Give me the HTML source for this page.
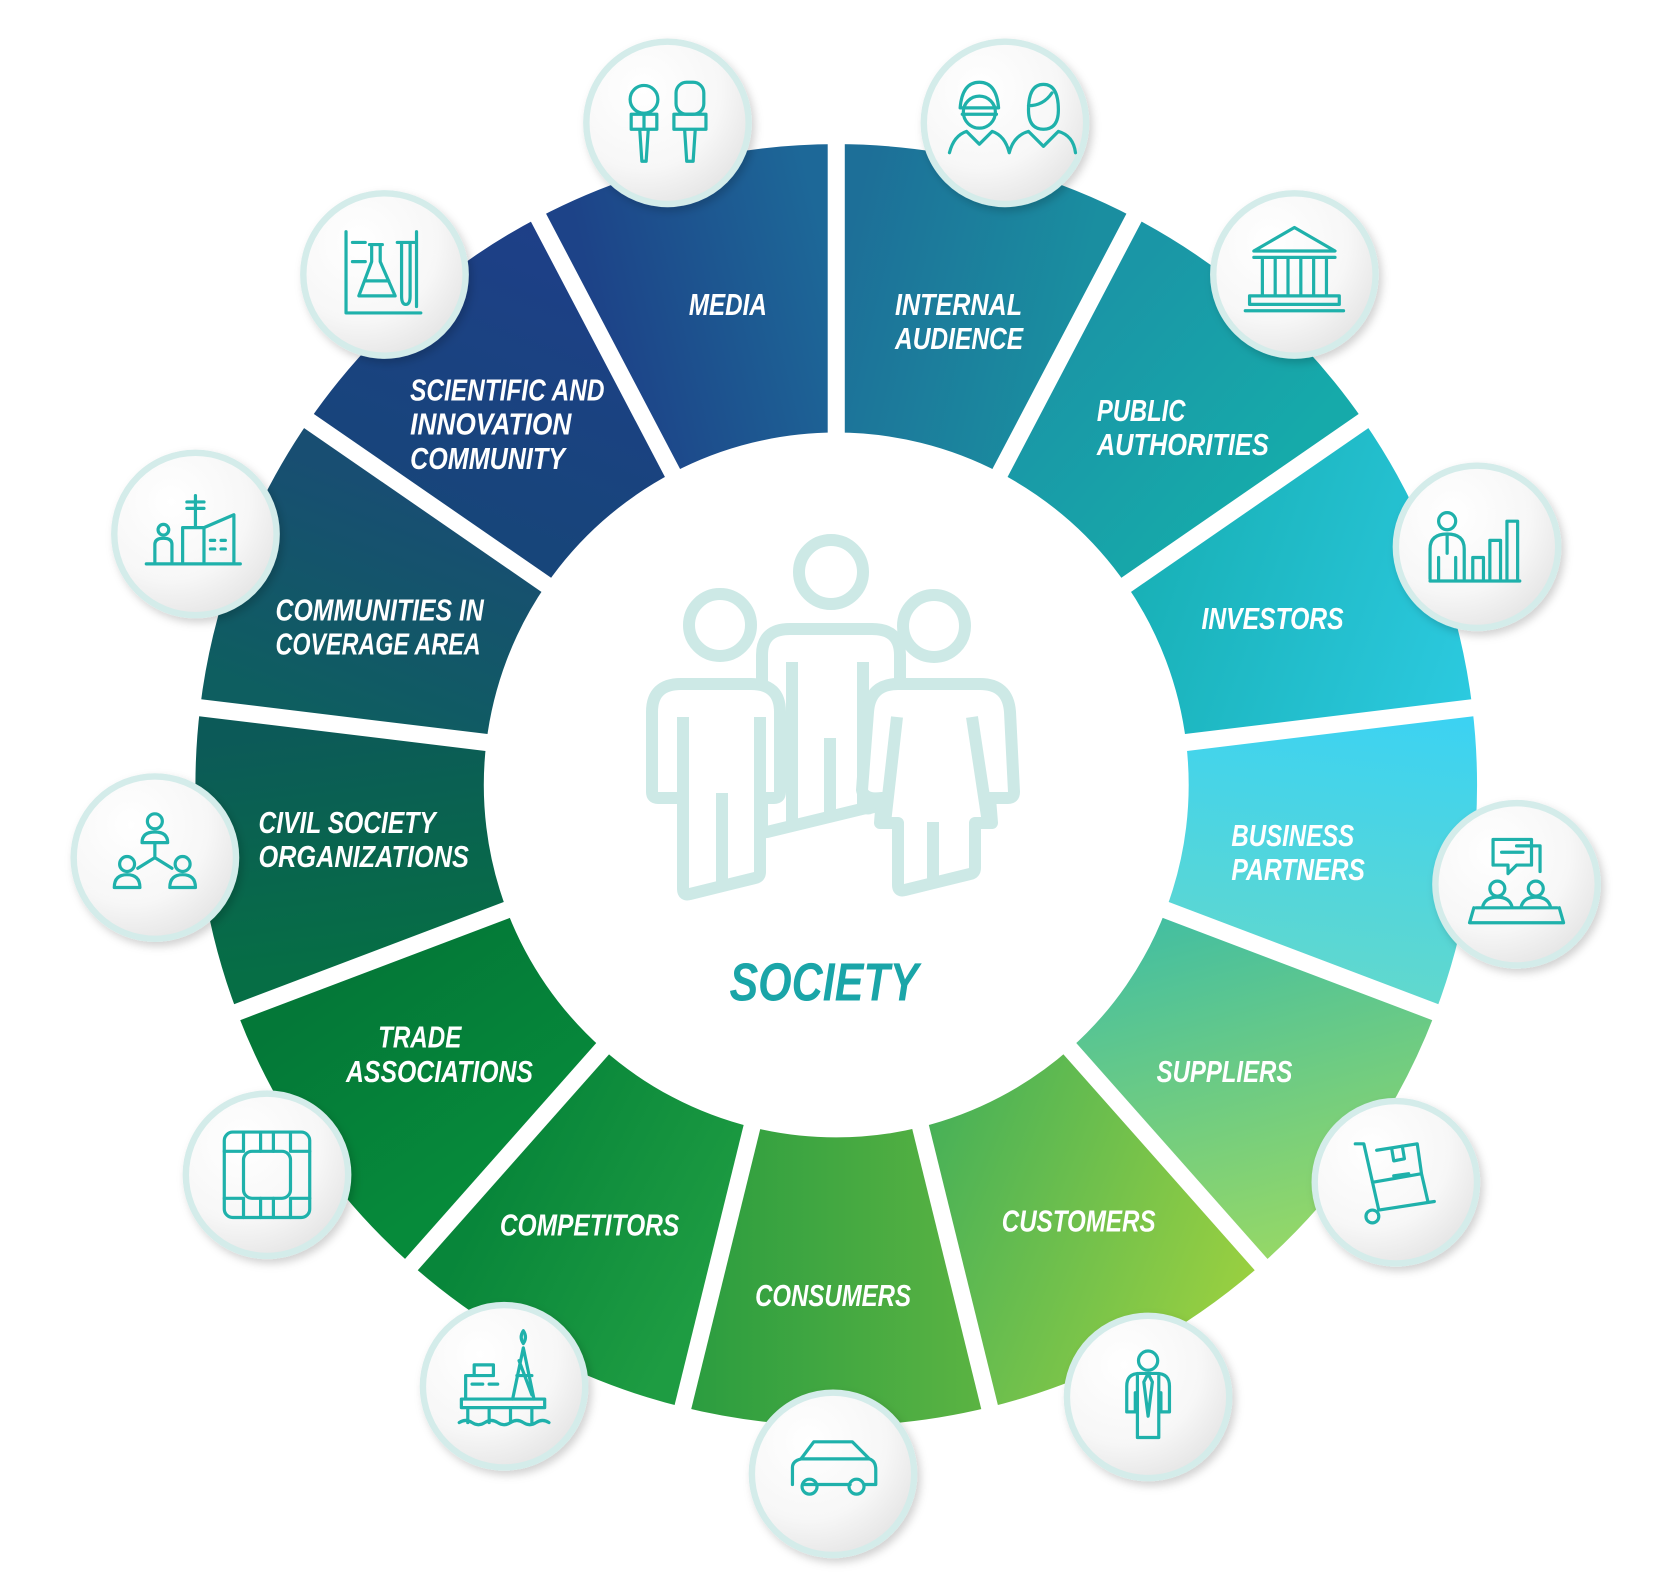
<!DOCTYPE html>
<html><head><meta charset="utf-8"><style>
html,body{margin:0;padding:0;background:#fff;width:1666px;height:1572px;overflow:hidden}
svg{display:block}
.lb{font-family:"Liberation Sans",sans-serif;font-weight:bold;font-style:italic;fill:#fff;font-size:29px}
.ic{fill:none;stroke:#1fb1ab;stroke-width:3;stroke-linecap:round;stroke-linejoin:round}
.pp{fill:#fff;stroke:#cde9e6;stroke-width:12;stroke-linejoin:round}
</style></head><body>
<svg id="s" width="1666" height="1572" viewBox="0 0 1666 1572" xmlns="http://www.w3.org/2000/svg">
<defs>
<radialGradient id="cg" cx="0.35" cy="0.3" r="0.8">
<stop offset="0" stop-color="#ffffff"/><stop offset="0.6" stop-color="#f7f7f7"/><stop offset="1" stop-color="#e2e2e2"/>
</radialGradient>
<filter id="sh" x="-30%" y="-30%" width="160%" height="160%"><feDropShadow dx="3" dy="4" stdDeviation="4" flood-color="#000" flood-opacity="0.18"/></filter>
</defs>
<g id="main" transform="scale(1.068)">
<g id="segs"></g>
<g id="circ"></g>
<g id="icons"></g>
<g>
<text class="lb" x="645" y="295" textLength="73" lengthAdjust="spacingAndGlyphs">MEDIA</text>
<text class="lb" x="838" y="295" textLength="119" lengthAdjust="spacingAndGlyphs">INTERNAL</text>
<text class="lb" x="838" y="327" textLength="120" lengthAdjust="spacingAndGlyphs">AUDIENCE</text>
<text class="lb" x="1027" y="394" textLength="83" lengthAdjust="spacingAndGlyphs">PUBLIC</text>
<text class="lb" x="1027" y="426" textLength="161" lengthAdjust="spacingAndGlyphs">AUTHORITIES</text>
<text class="lb" x="1125" y="589" textLength="133" lengthAdjust="spacingAndGlyphs">INVESTORS</text>
<text class="lb" x="1153" y="792" textLength="115" lengthAdjust="spacingAndGlyphs">BUSINESS</text>
<text class="lb" x="1153" y="824" textLength="125" lengthAdjust="spacingAndGlyphs">PARTNERS</text>
<text class="lb" x="1083" y="1013" textLength="127" lengthAdjust="spacingAndGlyphs">SUPPLIERS</text>
<text class="lb" x="938" y="1153" textLength="144" lengthAdjust="spacingAndGlyphs">CUSTOMERS</text>
<text class="lb" x="707" y="1223" textLength="146" lengthAdjust="spacingAndGlyphs">CONSUMERS</text>
<text class="lb" x="468" y="1157" textLength="168" lengthAdjust="spacingAndGlyphs">COMPETITORS</text>
<text class="lb" x="354" y="981" textLength="78" lengthAdjust="spacingAndGlyphs">TRADE</text>
<text class="lb" x="324" y="1013" textLength="175" lengthAdjust="spacingAndGlyphs">ASSOCIATIONS</text>
<text class="lb" x="242" y="780" textLength="166" lengthAdjust="spacingAndGlyphs">CIVIL SOCIETY</text>
<text class="lb" x="242" y="812" textLength="197" lengthAdjust="spacingAndGlyphs">ORGANIZATIONS</text>
<text class="lb" x="258" y="581" textLength="195" lengthAdjust="spacingAndGlyphs">COMMUNITIES IN</text>
<text class="lb" x="258" y="613" textLength="192" lengthAdjust="spacingAndGlyphs">COVERAGE AREA</text>
<text class="lb" x="384" y="375" textLength="182" lengthAdjust="spacingAndGlyphs">SCIENTIFIC AND</text>
<text class="lb" x="384" y="407" textLength="151" lengthAdjust="spacingAndGlyphs">INNOVATION</text>
<text class="lb" x="384" y="439" textLength="145" lengthAdjust="spacingAndGlyphs">COMMUNITY</text>
<text x="683" y="937" textLength="177" lengthAdjust="spacingAndGlyphs" style="font-family:'Liberation Sans',sans-serif;font-weight:bold;font-style:italic;font-size:50px;fill:#1aa5a8">SOCIETY</text>
</g>
</g>
<g>
<path class="pp" d="M762,830 V655 Q762,629 790,629 H872 Q900,629 900,655 V800 L870,808 Q868,809 866,808 L767,832 Q762,833 762,830 Z"/>
<path class="pp" d="M792,662 V828 M863,662 V806 M830,738 V818" fill="none"/>
<circle class="pp" cx="831" cy="572" r="32"/>
<circle class="pp" cx="720" cy="625" r="31"/>
<circle class="pp" cx="934" cy="626" r="31"/>
<path class="pp" d="M683,798 H658 Q652,798 652,792 V712 Q652,684 681,684 H751 Q780,684 780,712 V792 Q780,798 774,798 H760 V872 Q760,877 755,878 L690,894 Q683,896 683,889 Z"/>
<path class="pp" d="M683,717 V798 M760,717 V798 M722,793 V885" fill="none"/>
<path class="pp" d="M882,798 Q864,800 862,790 L868,712 Q870,684 898,684 H980 Q1008,684 1010,712 L1014,792 Q1014,798 1008,798 H990 L992,823 H975 V868 Q975,873 970,874 L905,890 Q898,892 898,885 V823 H880 Z"/>
<path class="pp" d="M897,717 L885,823 M972,717 L988,823 M933,822 V880" fill="none"/>
</g>
</svg>
<script>
(function(){
var cx=783,cy=735,R=600,r=330,n=13,step=360/n;
function pt(a,rad){var t=a*Math.PI/180;return [cx+rad*Math.sin(t),cy-rad*Math.cos(t)];}
var mr=(R+r)/2;
// spec: [pointA(angleFrac, radius), colorA, pointB, colorB]  angleFrac 0=start,1=end of segment
var S=[
 [[0,mr],"#1d6f98",[1,mr],"#1a8ea0"],
 [[0,mr],"#1a96a6",[1,mr],"#16aaaa"],
 [[0,r],"#18b0b6",[1,R],"#2ccae0"],
 [[0,R],"#3ad2f4",[1,R],"#62d8cc"],
 [[0,r],"#42bea2",[1,R],"#96d866"],
 [[1,r],"#46b058",[0,R],"#9ad040"],
 [[1,R],"#2a9c40",[0,R],"#5cb442"],
 [[1,mr],"#08863a",[0,mr],"#1e9c42"],
 [[1,mr],"#047838",[0,mr],"#068a3a"],
 [[0,mr],"#066e45",[1,mr],"#0c5a58"],
 [[0,mr],"#0e5e60",[1,mr],"#184e72"],
 [[0,mr],"#17457a",[1,R],"#1e3f88"],
 [[0,mr],"#1d4388",[1,mr],"#1d6898"]
];
var h="",d="";
for(var i=0;i<n;i++){
 var a0=i*step,a1=(i+1)*step;
 var p0=pt(a0,R),p1=pt(a1,R),q1=pt(a1,r),q0=pt(a0,r);
 var s=S[i];
 var A=pt(a0+s[0][0]*step,s[0][1]),B=pt(a0+s[2][0]*step,s[2][1]);
 d+='<linearGradient id="g'+i+'" gradientUnits="userSpaceOnUse" x1="'+A[0]+'" y1="'+A[1]+'" x2="'+B[0]+'" y2="'+B[1]+'"><stop offset="0" stop-color="'+s[1]+'"/><stop offset="1" stop-color="'+s[3]+'"/></linearGradient>';
 h+='<path fill="url(#g'+i+')" d="M'+p0+' A'+R+','+R+' 0 0 1 '+p1+' L'+q1+' A'+r+','+r+' 0 0 0 '+q0+' Z"/>';
}
for(var i=0;i<n;i++){var a=pt(i*step,r-5),b=pt(i*step,R+5);h+='<line x1="'+a[0]+'" y1="'+a[1]+'" x2="'+b[0]+'" y2="'+b[1]+'" stroke="#fff" stroke-width="16"/>';}
document.querySelector("defs").insertAdjacentHTML("beforeend",d);
document.getElementById("segs").innerHTML=h;
var C=[[941,115],[1212,257],[1383,512],[1420,828],[1307,1107],[1075,1308],[780,1380],[472,1298],[250,1100],[145,803],[183,500],[360,257],[625,115]];
var ch="";
C.forEach(function(c){ch+='<circle cx="'+c[0]+'" cy="'+c[1]+'" r="76" fill="url(#cg)" stroke="#d4ecea" stroke-width="6" filter="url(#sh)"/>';});
document.getElementById("circ").innerHTML=ch;
var I=[
 '<circle cx="-24" cy="-10" r="15"/><path d="M-42,-14 Q-40,-38 -24,-38 Q-8,-38 -6,-14 Z M-40,-8 H-8 M-52,28 Q-48,12 -36,8 L-24,20 -12,8 Q0,12 4,28 M22,-12 Q22,-36 36,-36 Q50,-36 50,-12 Q50,6 36,6 Q22,6 22,-12 M22,-16 Q36,-16 44,-28 M4,28 Q8,12 22,8 L36,22 50,8 Q64,12 66,28"/>',
 '<path d="M-38,-22 L0,-44 L38,-22 Z M-38,-16 H38 M-30,-16 V20 M-18,-16 V20 M-6,-16 V20 M6,-16 V20 M18,-16 V20 M30,-16 V20 M-42,20 H42 V28 H-42 Z M-46,34 H46"/>',
 '<circle cx="-28" cy="-24" r="8"/><path d="M-44,30 V2 Q-44,-12 -28,-12 Q-12,-12 -12,2 V30 M-36,30 V10 M-20,30 V10 M-28,-12 L-28,6 M-4,30 V10 H6 V30 M12,30 V-6 H22 V30 M28,30 V-24 H38 V30 M-44,32 H40"/>',
 '<path d="M-22,-42 H14 V-18 H0 L-8,-10 V-18 H-22 Z M-14,-30 H6 M0,-36 H22 V-12"/><circle cx="-18" cy="4" r="7"/><circle cx="18" cy="4" r="7"/><path d="M-32,22 Q-30,12 -18,12 Q-6,12 -4,22 M4,22 Q6,12 18,12 Q30,12 32,22 M-38,22 H38 M-40,22 L-44,36 H44 L40,22"/>',
 '<path d="M-38,-36 H-30 L-16,26 M-16,26 L36,18 M-22,0 L24,-8 L30,18 M-18,-30 L20,-36 L24,-8 M-4,-32 L-2,-20 L8,-22 L6,-34 M-2,-6 L12,-8"/><circle cx="-22" cy="32" r="6"/>',
 '<circle cx="0" cy="-34" r="9"/><path d="M-20,14 V-10 Q-20,-22 -8,-22 H8 Q20,-22 20,-10 V14 H12 V-4 M-20,14 H-12 V-4 M-10,38 V-22 M10,38 V-22 M-10,38 H10 M0,-22 L-4,-14 0,18 4,-14 Z"/>',
 '<path d="M-38,10 V-6 Q-38,-12 -30,-14 L-18,-30 H18 L34,-14 Q40,-12 40,-4 V10 H30 M-28,10 H16 M-30,-14 H34"/><circle cx="-22" cy="12" r="7"/><circle cx="22" cy="12" r="7"/>',
 '<path d="M-36,12 V-10 H-10 V-20 H-28 V-10 M-30,-2 H-20 M-14,-2 H-6 M-40,12 H38 V20 H-40 Z M-34,20 V34 M-14,20 V34 M6,20 V34 M26,20 V34 M-42,34 Q-36,30 -30,34 Q-24,38 -18,34 Q-12,30 -6,34 Q0,38 6,34 Q12,30 18,34 Q24,38 30,34 Q36,30 42,34 M8,12 L18,-36 L28,12 M12,-10 H26 M14,-24 L26,8 M18,-40 Q14,-46 18,-52 Q22,-46 18,-40"/>',
 '<rect x="-40" y="-40" width="80" height="80" rx="8"/><rect x="-22" y="-22" width="44" height="44" rx="8"/><path d="M-40,-22 H-22 M22,-22 H40 M-40,22 H-22 M22,22 H40 M-22,-40 V-22 M22,-40 V-22 M-22,22 V40 M22,22 V40 M-6,-40 V-22 M6,-40 V-22 M-6,22 V40 M6,22 V40"/>',
 '<circle cx="0" cy="-34" r="7"/><path d="M-12,-14 Q-12,-24 0,-24 Q12,-24 12,-14 Z M0,-14 V0 L-16,10 M0,0 L16,10"/><circle cx="-26" cy="6" r="7"/><circle cx="26" cy="6" r="7"/><path d="M-38,28 Q-38,16 -26,16 Q-14,16 -14,28 Z M14,28 Q14,16 26,16 Q38,16 38,28 Z"/>',
 '<circle cx="-30" cy="-4" r="5"/><path d="M-38,26 V10 Q-38,4 -30,4 Q-22,4 -22,10 V26 M-12,26 V-6 L8,-6 V26 M0,-6 V-36 M-8,-30 H8 M-8,-24 H8 M8,-6 L36,-18 V26 M14,6 H18 M14,14 H18 M24,6 H28 M24,14 H28 M-46,28 H42"/>',
 '<path d="M-36,-40 V36 H34 M-30,-30 H-18 M-30,-12 H-18 M-14,-28 H-2 M-12,-28 V-12 L-24,20 H10 L-4,-12 V-28 M-18,6 H4 M12,-30 H28 M16,-30 V20 Q16,28 20,28 Q24,28 24,20 V-30 M30,-40 V30"/>',
 '<circle cx="-22" cy="-22" r="13"/><path d="M-34,-8 H-10 V6 H-34 Z M-26,6 L-24,36 H-20 L-18,6 M-22,-8 V6"/><rect x="8" y="-38" width="26" height="30" rx="10"/><path d="M6,-8 H36 V6 H6 Z M16,6 L18,36 H24 L26,6"/>'
];
var ih="";
C.forEach(function(c,k){ih+='<g class="ic" transform="translate('+c[0]+','+c[1]+')">'+I[k]+'</g>';});
document.getElementById("icons").innerHTML=ih;
})();
</script>
</body></html>
